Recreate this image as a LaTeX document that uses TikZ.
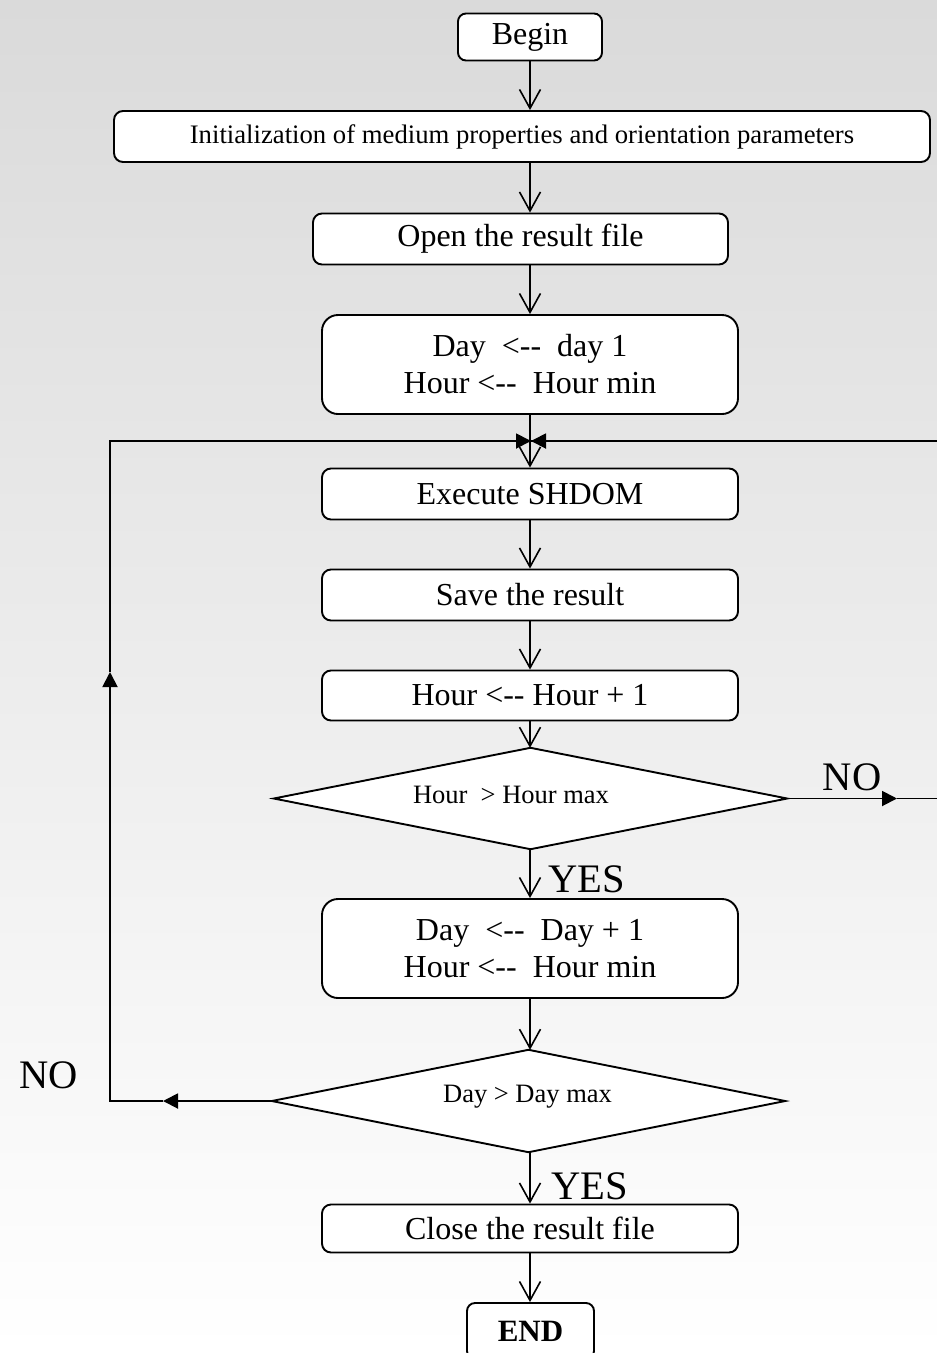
\documentclass[tikz,border=0pt]{standalone}
\usepackage{fontspec}
\setmainfont{Liberation Serif}
\usetikzlibrary{arrows.meta}
\begin{document}
\begin{tikzpicture}[x=1pt,y=-1pt,
  box/.style={draw,line width=1.9pt,fill=white,rounded corners=9pt,inner sep=0pt,align=center,font=\fontsize{32}{37}\selectfont},
  bigbox/.style={box,rounded corners=16pt},
  dia/.style={inner sep=0pt,font=\fontsize{26.5}{30}\selectfont},
  diaedge/.style={draw,line width=1.9pt,fill=white},
  lab/.style={inner sep=0pt,font=\fontsize{40.5}{44}\selectfont},
  flow/.style={line width=1.9pt,-{Straight Barb[length=19pt,width=21pt,line width=1.6pt]}},
  loopl/.style={line width=1.9pt},
  loopa/.style={line width=1.9pt,-{Triangle[length=15pt,width=15pt]}}
]
\shade[top color={rgb,255:red,218;green,218;blue,218},bottom color=white] (0,0) rectangle (937,1353);
\useasboundingbox (0,0) rectangle (937,1353);

\coordinate (col) at (530,0);

\node[box,minimum width=144pt,minimum height=47pt,rounded corners=8pt] (begin) at (530,37) {Begin};
\node[box,minimum width=816pt,minimum height=51pt,font=\fontsize{26.7}{30}\selectfont] (init) at (522,136.5) {Initialization of medium properties and orientation parameters};
\node[box,minimum width=415pt,minimum height=51pt] (open) at (520.5,239) {Open the result file};
\node[bigbox,minimum width=416pt,minimum height=99pt] (dh1) at (530,364.5) {Day\ \ {<}{-}{-}\ \ day 1\\Hour {<}{-}{-}\ \ Hour min};
\node[box,minimum width=416pt,minimum height=51pt] (exec) at (530,494) {Execute SHDOM};
\node[box,minimum width=416pt,minimum height=51pt] (save) at (530,595) {Save the result};
\node[box,minimum width=416pt,minimum height=50pt] (hinc) at (530,695.5) {Hour {<}{-}{-} Hour + 1};

\node[dia,minimum width=513pt,minimum height=101pt] (d1) at (530.5,798.5) {};
\draw[diaedge] (d1.north) -- (d1.east) -- (d1.south) -- (d1.west) -- cycle;
\node[dia] (d1t) at (511,795) {Hour\ \ {>} Hour max};

\node[bigbox,minimum width=416pt,minimum height=99pt] (dh2) at (530,948.5) {Day\ \ {<}{-}{-}\ \ Day + 1\\Hour {<}{-}{-}\ \ Hour min};

\node[dia,minimum width=513pt,minimum height=102pt] (d2) at (528.5,1101) {};
\draw[diaedge] (d2.north) -- (d2.east) -- (d2.south) -- (d2.west) -- cycle;
\node[dia] (d2t) at (527.5,1097) {Day {>} Day max};

\node[box,minimum width=416pt,minimum height=48pt] (close) at (530,1228.5) {Close the result file};
\node[box,minimum width=127pt,minimum height=56pt,rounded corners=8pt,font=\fontsize{31}{37}\selectfont\bfseries] (end) at (530.5,1331) {END};

\node[lab] (yes1) at (587,879) {YES};
\node[lab] (yes2) at (590,1186) {YES};
\node[lab] (no1) at (852,777) {NO};
\node[lab] (no2) at (49,1075) {NO};

\draw[flow] (col |- begin.south) -- (col |- init.north);
\draw[flow] (col |- init.south) -- (col |- open.north);
\draw[flow] (col |- open.south) -- (col |- dh1.north);
\draw[flow] (dh1.south) -- (exec.north);
\draw[flow] (exec.south) -- (save.north);
\draw[flow] (save.south) -- (hinc.north);
\draw[flow] (hinc.south) -- (col |- d1.north);
\draw[flow] (col |- d1.south) -- (dh2.north);
\draw[flow] (dh2.south) -- (col |- d2.north);
\draw[flow] (col |- d2.south) -- (close.north);
\draw[flow] (close.south) -- (col |- end.north);

\coordinate (top) at (531,441);
\coordinate (ra) at (897,798.5);
\coordinate (rb) at (941,798.5);
\coordinate (rc) at (941,441);
\coordinate (la) at (163,1101);
\coordinate (lb) at (110,1101);
\coordinate (lc) at (110,672);
\coordinate (ld) at (110,441);

\draw[loopa] (d1.east) -- (ra);
\draw[loopl] (ra) -- (rb) -- (rc) -- (top);
\draw[loopa] (rc) -- (top);
\draw[loopa] (d2.west) -- (la);
\draw[loopa] (la) -- (lb) -- (lc);
\draw[loopa] (lc) -- (ld) -- (top);
\end{tikzpicture}
\end{document}
